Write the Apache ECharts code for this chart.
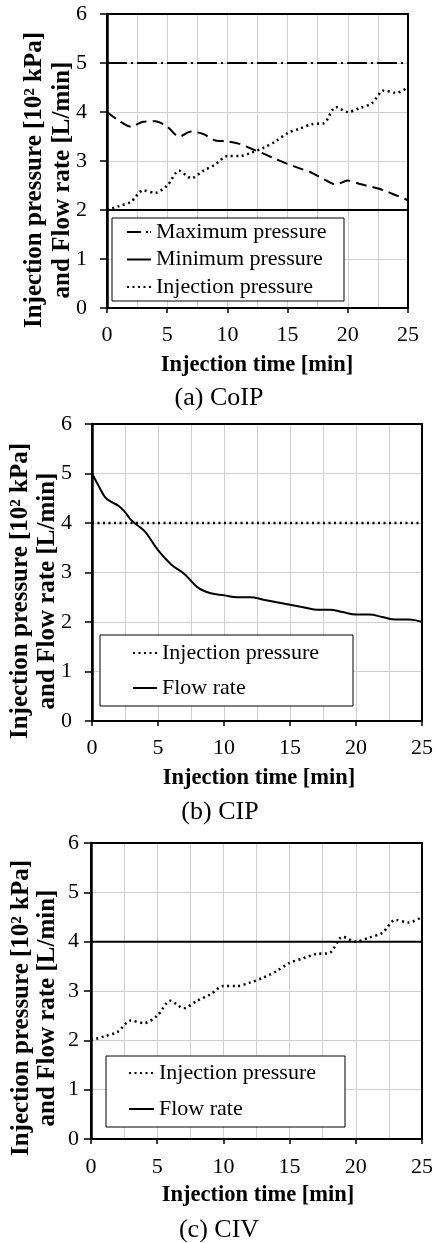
<!DOCTYPE html>
<html>
<head>
<meta charset="utf-8">
<script src="https://cdn.jsdelivr.net/npm/echarts@6/dist/echarts.min.js"></script>
<style>
html,body{margin:0;padding:0;background:#fff;}
#c{width:436px;height:1243px;}
</style>
</head>
<body>
<div id="c"></div>
<script>
// ---- data ----
const constTime = [0, 25];
const maxPressureA = [5, 5];
const minPressureA = [2, 2];
const injPressureB = [4, 4];
const flowRateC = [4, 4];

const flowTimeA = [0,1,2,3,4,5,6,7,8,9,10,11,12,13,14,15,16,17,18,19,20,21,22,23,24,25];
const flowRateA = [4.0,3.82,3.7,3.8,3.81,3.7,3.5,3.6,3.55,3.42,3.4,3.35,3.25,3.15,3.04,2.94,2.85,2.76,2.63,2.52,2.6,2.53,2.47,2.4,2.3,2.2];

const injTime = [0,1,2,3,4,5,6,7,8,9,10,11,12,13,14,15,16,17,18,19,20,21,22,23,24,25];
const injPressure = [2.0,2.08,2.17,2.4,2.35,2.5,2.8,2.65,2.8,2.93,3.1,3.1,3.17,3.27,3.4,3.57,3.66,3.75,3.77,4.1,4.0,4.08,4.18,4.44,4.39,4.5];

const flowTimeB = [0,0.5,1,1.5,2,2.5,3,4,5,6,7,8,9,10,11,12,13,14,15,16,17,18,19,20,21,22,23,24,25];
const flowRateB = [5.0,4.75,4.52,4.42,4.35,4.22,4.05,3.83,3.45,3.16,2.97,2.7,2.58,2.54,2.5,2.5,2.45,2.4,2.35,2.3,2.25,2.25,2.2,2.15,2.15,2.1,2.05,2.05,2.0];

const xTicks = [0, 5, 10, 15, 20, 25];
const yTicks = [0, 1, 2, 3, 4, 5, 6];
const xTitle = 'Injection time [min]';
const yTitle = 'Injection pressure [10\u00B2 kPa]\nand Flow rate [L/min]';
const captions = ['(a) CoIP', '(b) CIP', '(c) CIV'];

// ---- helpers ----
const FF = '"Liberation Serif","Times New Roman",serif';
const zip = (xs, ys) => xs.map((x, i) => [x, ys[i]]);
const GRID_C = '#cfcfcf';

function xAx(gi, margin) {
  return {
    type: 'value', gridIndex: gi, min: xTicks[0], max: xTicks[xTicks.length - 1], interval: 5,
    axisLine: { show: true, onZero: false, lineStyle: { color: '#000', width: 2 } },
    axisTick: { show: true, length: 5, lineStyle: { color: '#000', width: 1.5 } },
    axisLabel: { fontFamily: FF, fontSize: 22, color: '#000', margin: margin },
    splitLine: { show: true, lineStyle: { color: GRID_C, width: 1 } },
    minorTick: { show: false, splitNumber: 2 },
    minorSplitLine: { show: true, lineStyle: { color: GRID_C, width: 1 } }
  };
}
function yAx(gi, margin) {
  return {
    type: 'value', gridIndex: gi, min: yTicks[0], max: yTicks[yTicks.length - 1], interval: 1,
    axisLine: { show: true, onZero: false, lineStyle: { color: '#000', width: 2.5 } },
    axisTick: { show: true, length: 7, lineStyle: { color: '#000', width: 1.5 } },
    axisLabel: { fontFamily: FF, fontSize: 22, color: '#000', margin: margin },
    splitLine: { show: true, lineStyle: { color: GRID_C, width: 1 } }
  };
}
function line(name, gi, data, lineStyle, smooth) {
  return {
    type: 'line', name: name, xAxisIndex: gi, yAxisIndex: gi, data: data,
    symbol: 'none', smooth: smooth || false, z: 3,
    lineStyle: Object.assign({ color: '#000', cap: 'butt' }, lineStyle),
    itemStyle: { color: '#000' },
    emphasis: { disabled: true }, animation: false
  };
}
function legend(names, left, top, gap, iw) {
  return {
    data: names, orient: 'vertical', left: left, top: top, itemGap: gap,
    itemWidth: iw, itemHeight: 14, selectedMode: false, z: 10,
    itemStyle: { opacity: 0, borderWidth: 0 },
    textStyle: { fontFamily: FF, fontSize: 22, color: '#000', lineHeight: 22 },
    padding: 0
  };
}
function txt(x, y, text, size, weight, rot, lh) {
  return {
    type: 'text', x: x, y: y, rotation: rot || 0, z: 20,
    style: { text: text, x: 0, y: 0, align: 'center', verticalAlign: 'middle',
             font: (weight || 'normal') + ' ' + size + 'px ' + FF, fill: '#000',
             lineHeight: lh || size }
  };
}
function box(x1, y1, x2, y2) {
  return { type: 'rect', z: 5, shape: { x: x1, y: y1, width: x2 - x1, height: y2 - y1 },
           style: { fill: '#fff', stroke: '#000', lineWidth: 1 } };
}

const DOT = { width: 2.5, type: [2, 3.5] };
const SOLID = { width: 2, type: 'solid' };

const option = {
  animation: false,
  grid: [
    { left: 107, width: 301, top: 14, height: 294, show: true, borderColor: '#000', borderWidth: 2, z: 1 },
    { left: 92, width: 334, top: 424, height: 297, show: true, borderColor: '#000', borderWidth: 2, z: 1 },
    { left: 91, width: 334, top: 843, height: 296, show: true, borderColor: '#000', borderWidth: 2, z: 1 }
  ],
  xAxis: [xAx(0, 16), xAx(1, 16), xAx(2, 17)],
  yAxis: [yAx(0, 20), yAx(1, 20), yAx(2, 12)],
  legend: [
    legend([{ name: 'Maximum pressure', lineStyle: { type: [14, 5, 2, 2] } }, 'Minimum pressure', 'Injection pressure'], 126, 221, 5.5, 24),
    legend(['Injection pressure ', 'Flow rate'], 132, 642, 13, 24),
    legend(['Injection pressure  ', 'Flow rate '], 128, 1062, 14, 25)
  ],
  series: [
    line('Maximum pressure', 0, zip(constTime, maxPressureA), { width: 2, type: [20, 4, 2, 4] }),
    line('Minimum pressure', 0, zip(constTime, minPressureA), SOLID),
    line('Injection pressure', 0, zip(injTime, injPressure), DOT, 0.3),
    line('Flow rate (a)', 0, zip(flowTimeA, flowRateA), { width: 2, type: [11, 6] }, 0.3),

    line('Injection pressure ', 1, zip(constTime, injPressureB), DOT),
    line('Flow rate', 1, zip(flowTimeB, flowRateB), SOLID, 0.4),

    line('Injection pressure  ', 2, zip(injTime, injPressure), DOT, 0.3),
    line('Flow rate ', 2, zip(constTime, flowRateC), SOLID)
  ],
  graphic: [
    box(112, 218, 344, 301),
    box(100, 635, 353, 706),
    box(106, 1056, 345, 1127),
    txt(257, 365, xTitle, 22.5, 'bold'),
    txt(259, 778, xTitle, 22.5, 'bold'),
    txt(258, 1195, xTitle, 22.5, 'bold'),
    txt(49, 180, yTitle, 25, 'bold', Math.PI / 2, 28),
    txt(34, 591, yTitle, 25, 'bold', Math.PI / 2, 27),
    txt(35, 1008, yTitle, 25, 'bold', Math.PI / 2, 26),
    txt(219, 398, captions[0], 26),
    txt(220, 812, captions[1], 26),
    txt(219, 1230, captions[2], 26)
  ]
};

const chart = echarts.init(document.getElementById('c'), null, { renderer: 'canvas' });
chart.setOption(option);
</script>
</body>
</html>
